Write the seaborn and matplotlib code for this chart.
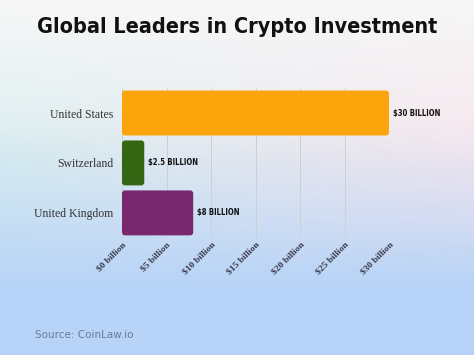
import numpy as np
import pandas as pd
import seaborn as sns
import matplotlib.pyplot as plt
from matplotlib.patches import FancyBboxPatch

countries = ["United States", "Switzerland", "United Kingdom"]
investment = [30, 2.5, 8]
value_labels = ["$30 billion", "$2.5 billion", "$8 billion"]
bar_colors = ["#FBA50A", "#356614", "#78296E"]
tick_values = [0, 5, 10, 15, 20, 25, 30]
tick_labels = ["$0 billion", "$5 billion", "$10 billion", "$15 billion",
               "$20 billion", "$25 billion", "$30 billion"]

df = pd.DataFrame({"country": countries, "investment": investment})

sns.set_style("white")
fig = plt.figure(figsize=(4.74, 3.55), dpi=100)

# soft gradient background
bg = fig.add_axes([0, 0, 1, 1], zorder=-10)
h, w = 200, 200
yy, xx = np.mgrid[0:1:h * 1j, 0:1:w * 1j]
top = np.array([0.97, 0.97, 0.97])
bottom = np.array([0.72, 0.83, 0.97])
pink = np.array([0.96, 0.90, 0.93])
teal = np.array([0.85, 0.93, 0.94])
t = np.clip((yy - 0.35) / 0.45, 0, 1)[..., None] ** 1.2
side = xx[..., None]
mid = teal * (1 - side) + pink * side
k = np.clip(yy * 2.2, 0, 1)[..., None]
upper = top * (1 - k) + mid * k
img = upper * (1 - t) + bottom * t
bg.imshow(img, aspect="auto", extent=[0, 1, 1, 0])
bg.axis("off")

ax = fig.add_axes([0.2574, 0.33, 0.5633, 0.422])
ax.patch.set_alpha(0)
sns.barplot(data=df, y="country", x="investment", hue="country",
            palette=bar_colors, saturation=1, width=0.9, legend=False,
            linewidth=0, ax=ax, zorder=3)

ax.set_xlim(0, 30)
ax.set_xticks(tick_values)
ax.set_xticklabels(tick_labels, rotation=45, ha="right", rotation_mode="anchor",
                   family="Liberation Serif", fontweight="semibold", fontsize=6.8,
                   color="#3a3a4a")
ax.tick_params(axis="y", labelsize=8.5, length=0, pad=6)
for lab in ax.get_yticklabels():
    lab.set_family("Liberation Serif")
    lab.set_color("#333333")
ax.tick_params(axis="x", length=0, pad=2)
ax.grid(axis="x", color="#cfcfcf", linewidth=0.7, zorder=0)
ax.set_xlabel("")
ax.set_ylabel("")
sns.despine(ax=ax, left=True, bottom=True)

# rounded bar corners
fig.canvas.draw()
ylo, yhi = ax.get_ylim()
x_per_px = 30 / (0.5633 * 474)
y_per_px = abs(yhi - ylo) / (0.422 * 355)
for p in list(ax.patches):
    fb = FancyBboxPatch((p.get_x(), p.get_y()), p.get_width(), p.get_height(),
                        boxstyle="round,pad=0,rounding_size=%f" % (3 * x_per_px),
                        mutation_aspect=y_per_px / x_per_px,
                        facecolor=p.get_facecolor(), edgecolor="none", zorder=3)
    p.remove()
    ax.add_patch(fb)

for i, (v, txt) in enumerate(zip(investment, value_labels)):
    ax.text(v + 0.4, i, txt.upper(), va="center", ha="left", fontsize=5.5,
            fontweight="bold", fontstretch="condensed", color="#111111")

fig.text(0.5, 0.924, "Global Leaders in Crypto Investment", ha="center", va="center",
         fontsize=15.5, fontweight="heavy", fontstretch="condensed", color="#111111")
fig.text(0.074, 0.056, "Source: CoinLaw.io", ha="left", va="center",
         fontsize=7.5, color="#6b7a99")

fig.savefig("out.png", dpi=100)
